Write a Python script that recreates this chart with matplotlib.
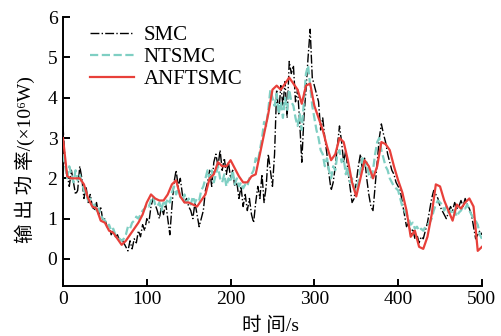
import numpy as np
import matplotlib
matplotlib.use('Agg')
import matplotlib.pyplot as plt

plt.rcParams['font.family'] = ['Liberation Serif', 'Noto Sans CJK SC', 'DejaVu Sans']

# ── data ─────────────────────────────────────────────────────
t_red = np.arange(0, 501, 5)
anftsmc = [3.0, 2.05, 2.0, 2.0, 2.0, 1.85, 1.5, 1.3, 1.25, 0.95,
           0.9, 0.7, 0.65, 0.5, 0.35, 0.45, 0.6, 0.75, 0.9, 1.1,
           1.4, 1.6, 1.5, 1.45, 1.45, 1.6, 1.85, 1.95, 1.55, 1.4,
           1.4, 1.35, 1.3, 1.45, 1.6, 2.0, 2.1, 2.4, 2.3, 2.3,
           2.45, 2.25, 2.05, 1.9, 1.9, 2.05, 2.1, 2.6, 3.1, 3.6,
           4.2, 4.3, 4.2, 4.35, 4.5, 4.35, 4.2, 3.85, 4.3, 4.35,
           3.8, 3.5, 3.2, 2.8, 2.45, 2.6, 3.0, 2.9, 2.45, 1.9,
           1.55, 2.0, 2.45, 2.3, 2.0, 2.3, 2.9, 2.85, 2.7, 2.3,
           1.95, 1.65, 1.2, 0.55, 0.7, 0.3, 0.25, 0.55, 1.1, 1.85,
           1.8, 1.45, 1.2, 0.95, 1.35, 1.25, 1.4, 1.5, 1.3, 0.2,
           0.3]

t_fine = np.arange(0, 500.1, 2.5)
smc = [3.3, 2.4, 2.1, 1.8, 2.2, 1.9, 1.6, 1.7, 2.3, 2.0,
       1.5, 1.8, 1.4, 1.6, 1.3, 1.2, 1.4, 1.1, 1.3, 0.95,
       1.0, 0.8, 0.85, 0.6, 0.7, 0.55, 0.6, 0.45, 0.5, 0.4,
       0.3, 0.2, 0.45, 0.25, 0.5, 0.4, 0.7, 0.55, 0.85, 0.7,
       1.0, 0.9, 1.3, 1.5, 1.35, 1.2, 1.0, 1.3, 1.1, 1.4,
       1.0, 0.6, 1.3, 1.9, 2.2, 1.8, 2.0, 1.6, 1.4, 1.5,
       1.3, 1.2, 1.0, 1.4, 1.1, 0.8, 1.0, 1.2, 1.7, 1.9,
       2.2, 1.8, 2.4, 2.6, 2.3, 2.7, 2.2, 2.5, 2.1, 2.4,
       2.0, 2.2, 1.8, 1.9, 1.5, 1.8, 1.3, 1.6, 1.2, 1.5,
       1.1, 0.9, 1.4, 1.8, 1.5, 2.1, 1.4, 1.8, 2.6, 2.2,
       1.8, 2.6, 4.2, 3.6, 4.3, 3.8, 4.4, 3.5, 4.9, 4.6,
       4.8, 3.9, 4.2, 3.4, 2.4, 3.5, 4.2, 5.0, 5.7, 4.5,
       4.3, 4.1, 3.9, 3.2, 3.5, 3.0, 2.6, 2.1, 1.7, 1.9,
       2.3, 2.8, 3.3, 2.9, 2.4, 2.7, 2.2, 1.8, 1.4, 1.5,
       1.9, 2.3, 2.6, 2.2, 2.5, 2.0, 1.6, 1.3, 1.2, 1.8,
       2.4, 3.0, 3.35, 3.1, 2.9, 2.6, 2.4, 2.2, 2.1, 1.9,
       1.8, 1.7, 1.4, 1.1, 0.8, 0.9, 0.6, 0.75, 0.5, 0.6,
       0.4, 0.55, 0.5, 0.7, 0.9, 1.2, 1.5, 1.7, 1.6, 1.5,
       1.3, 1.2, 1.1, 1.0, 1.15, 1.3, 1.2, 1.4, 1.25, 1.3,
       1.45, 1.3, 1.5, 1.35, 1.25, 1.1, 0.8, 0.5, 0.6, 0.7,
       0.6]

ntsmc = [2.6, 2.3, 2.0, 2.3, 2.1, 1.9, 2.2, 1.95, 2.1, 1.9,
         1.7, 1.6, 1.45, 1.5, 1.3, 1.35, 1.2, 1.25, 1.1, 1.0,
         0.95, 0.8, 0.85, 0.7, 0.75, 0.6, 0.55, 0.5, 0.45, 0.5,
         0.6, 0.8, 0.75, 0.9, 0.95, 1.05, 1.0, 1.1, 1.2, 1.25,
         1.35, 1.3, 1.45, 1.55, 1.35, 1.3, 1.4, 1.2, 1.45, 1.35,
         1.5, 1.4, 1.65, 1.8, 1.6, 1.75, 1.55, 1.45, 1.6, 1.4,
         1.5, 1.35, 1.55, 1.4, 1.5, 1.45, 1.7, 1.8, 2.0, 2.2,
         2.0, 2.2, 1.9, 2.1, 2.3, 2.0, 1.9, 2.1, 1.8, 2.0,
         1.9, 2.2, 1.85, 2.0, 1.8, 1.9, 1.75, 1.85, 1.8, 2.0,
         2.1, 2.2, 2.5, 2.4, 2.7, 3.0, 3.4, 3.3, 3.7, 4.2,
         4.0, 3.8, 4.1, 3.6, 3.9, 3.5, 4.0, 3.7, 4.2, 3.9,
         3.8, 3.5, 3.3, 3.6, 3.2, 3.9, 4.6, 4.8, 4.3, 3.8,
         3.5, 3.2, 3.0, 2.7, 2.6, 2.3, 2.5, 2.2, 2.0, 2.3,
         2.2, 2.6, 2.7, 2.4, 2.5, 2.1, 2.3, 1.9, 2.0, 1.75,
         1.7, 1.9, 2.2, 2.5, 2.3, 2.4, 2.1, 2.0, 2.2, 2.6,
         2.9, 3.0, 2.7, 2.5, 2.3, 2.2, 2.0, 1.9, 1.8, 1.75,
         1.7, 1.5, 1.3, 1.2, 1.1, 1.0, 0.85, 0.9, 0.75, 0.8,
         0.7, 0.75, 0.7, 0.8, 0.85, 0.9, 1.0, 1.2, 1.35, 1.45,
         1.4, 1.35, 1.2, 1.3, 1.15, 1.2, 1.1, 1.2, 1.05, 1.15,
         1.2, 1.3, 1.25, 1.35, 1.2, 1.1, 1.0, 0.95, 0.85, 0.6,
         0.5]

x_ticks = [0, 100, 200, 300, 400, 500]
y_ticks = [0, 1, 2, 3, 4, 5, 6]

# ── figure ───────────────────────────────────────────────────
fig = plt.figure(figsize=(5.02, 3.36), dpi=100)
ax = fig.add_axes([0.1255, 0.149, 0.8345, 0.8])

ax.plot(t_fine, smc, color='black', lw=1.0, ls='-.', label='SMC', zorder=2)
ax.plot(t_fine, ntsmc, color='#7fcfc3', lw=1.6, ls='--', label='NTSMC', zorder=3)
ax.plot(t_red, anftsmc, color='#e8403a', lw=1.6, label='ANFTSMC', zorder=4)

ax.set_xlim(0, 500)
ax.set_ylim(-0.67, 6)
ax.set_xticks(x_ticks)
ax.set_yticks(y_ticks)
for s in ['top', 'right']:
    ax.spines[s].set_visible(False)
for s in ['left', 'bottom']:
    ax.spines[s].set_linewidth(1.4)
ax.tick_params(direction='in', length=5, width=1.4, labelsize=14, pad=4)

ax.set_xlabel('时 间/s', fontsize=14)
ax.set_ylabel('输 出 功 率/(×10\u2076W)', fontsize=14)
ax.xaxis.set_label_coords(0.496, -0.115)
ax.yaxis.set_label_coords(-0.068, 0.47)

ax.legend(loc='upper left', bbox_to_anchor=(0.045, 1.0), frameon=False,
          fontsize=15, handlelength=2.1, handletextpad=0.45,
          labelspacing=0.12, borderaxespad=0)

fig.savefig('out.png', dpi=100, facecolor='white')
